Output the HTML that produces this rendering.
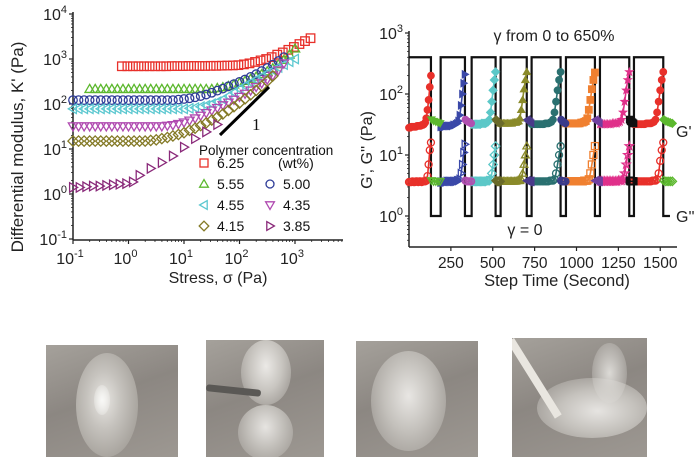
<!DOCTYPE html>
<html><head><meta charset="utf-8">
<style>
html,body{margin:0;padding:0;background:#fff;}
body{width:700px;height:457px;position:relative;overflow:hidden;font-family:"Liberation Sans",sans-serif;}
svg{position:absolute;left:0;top:0;}
.photo{position:absolute;overflow:hidden;background:linear-gradient(160deg,#a5a19b 0%,#8c8782 45%,#9d9892 100%);}
.blob{position:absolute;border-radius:50%;}
</style></head>
<body>
<svg id="chart" width="700" height="300" viewBox="0 0 700 300"></svg>

<div class="photo" style="left:46px;top:345px;width:132px;height:112px">
 <div class="blob" style="left:30px;top:8px;width:62px;height:104px;background:radial-gradient(ellipse at 45% 45%,#e8e6e2 0%,#c6c3be 35%,#aaa6a0 70%,rgba(150,145,140,0) 100%)"></div>
 <div class="blob" style="left:48px;top:40px;width:16px;height:30px;background:radial-gradient(#f8f8f6 0%,rgba(240,240,238,0) 100%)"></div>
</div>
<div class="photo" style="left:206px;top:340px;width:118px;height:117px">
 <div class="blob" style="left:35px;top:0px;width:50px;height:65px;background:radial-gradient(ellipse at 50% 40%,#ebe9e6 0%,#c8c5c0 45%,rgba(150,145,140,0) 100%)"></div>
 <div class="blob" style="left:32px;top:65px;width:55px;height:55px;background:radial-gradient(ellipse at 50% 40%,#e6e4e1 0%,#c2bfba 45%,rgba(150,145,140,0) 100%)"></div>
 <div style="position:absolute;left:0;top:47px;width:55px;height:7px;background:#5a5855;transform:rotate(6deg);border-radius:3px"></div>
</div>
<div class="photo" style="left:356px;top:341px;width:122px;height:116px">
 <div class="blob" style="left:15px;top:10px;width:75px;height:100px;background:radial-gradient(ellipse at 50% 45%,#e8e6e3 0%,#c4c1bc 45%,rgba(150,145,140,0) 100%)"></div>
</div>
<div class="photo" style="left:512px;top:338px;width:135px;height:119px">
 <div class="blob" style="left:25px;top:40px;width:110px;height:60px;background:radial-gradient(ellipse at 55% 55%,#e6e4e1 0%,#c4c1bc 45%,rgba(150,145,140,0) 100%)"></div>
 <div class="blob" style="left:80px;top:5px;width:35px;height:60px;background:radial-gradient(ellipse at 50% 50%,#dcdad6 0%,rgba(150,145,140,0) 100%)"></div>
 <div style="position:absolute;width:90px;height:8px;background:#e9e6e0;transform:rotate(58deg);transform-origin:0 0;left:2px;top:0px"></div>
</div>

<script>
// ---------- LEFT CHART DATA ----------
const leftLabels = ["6.25","5.55","5.00","4.55","4.35","4.15","3.85"];
const xTickExp = [-1,0,1,2,3];
const yTickExp = [-1,0,1,2,3,4];
const logStressStart = [-0.12,-0.7,-1,-1,-1,-1];
const pointsPerDecade = 10;
const kRed = [690,690,690,690,690,690,690,690,690,695,695,695,700,700,700,700,705,705,710,715,720,730,760,800,860,930,1000,1100,1250,1400,1600,1850,2150,2500,2900];
const kGreen = [215,215,215,215,215,215,215,215,215,215,215,215,215,215,215,215,215,215,215,215,215,215,215,225,235,250,270,295,325,360,405,460,530,620,760,950,1250,1700];
const kBlue = [122,122,122,122,122,122,122,122,122,122,122,122,122,122,122,122,122,122,122,125,129,134,141,150,162,178,198,220,247,277,310,350,400,460,540,630,750,900,1100];
const kCyan = [78,78,78,78,78,78,78,78,78,78,78,78,78,78,78,78,78,78,78,78,78,80,83,87,93,101,112,126,150,180,215,255,300,350,410,480,560,650,750,870,1000];
const kMagenta = [32,32,32,32,32,32,32,32,32,32,32,32,32,32,32,32,32,33,34,36,39,43,48,55,63,72,82,94,108,125,145,170,200,240,290,350,430,560,800];
const kOlive = [15,15,15,15,15,15,15,15,15,15,15,15,15,15,15.5,16,17,18,19.5,21,23,26,29,33,38,44,51,60,72,87,105,130,160,200,250,320,420];
const purpleLogStress = [-1,-0.88,-0.76,-0.64,-0.52,-0.4,-0.28,-0.16,-0.04,0.08,0.2,0.4,0.6,0.8,1.0,1.2,1.4,1.6];
const kPurple = [1.4,1.4,1.45,1.5,1.5,1.55,1.6,1.65,1.7,1.85,2.6,3.7,5,7,11,17,24,35];

// ---------- RIGHT CHART DATA ----------
const rxTicks = [250,500,750,1000,1250,1500];
const ryTickExp = [0,1,2,3];
const strainTimes = [0,131,189,334,374,517,547,703,732,905,937,1110,1140,1315,1343,1518,1558];
const strainHigh = 400, strainLow = 1;
const segStart = [0,189,374,547,732,937,1140,1343];
const segEnd = [131,334,517,703,905,1110,1315,1518];
const gp1 = [28,28,29,29,29,29,29,30,30,30,30,31,31,32,34,40,55,80,130,200];
const gp2 = [29,29,29,29,30,30,30,30,30,30,31,31,32,33,36,45,65,100,150,210];
const gp3 = [32,32,32,32,32,32,32,32,33,33,33,33,34,35,38,50,75,115,170,230];
const gp4 = [33,33,33,33,33,33,33,33,33,34,34,34,35,36,40,55,80,120,170,230];
const gp5 = [32,32,32,32,32,32,32,32,32,33,33,33,34,35,38,50,75,115,170,230];
const gp6 = [33,33,33,33,33,33,33,33,33,33,34,34,35,36,40,55,80,120,170,225];
const gp7 = [32,32,32,32,32,32,32,32,33,33,33,33,34,35,38,50,75,115,170,230];
const gp8 = [32,32,32,32,32,32,32,32,33,33,33,33,34,35,38,50,75,115,170,230];
const gpp1 = [3.6,3.6,3.6,3.7,3.6,3.6,3.7,3.7,3.6,3.7,3.7,3.6,3.7,3.7,3.7,3.8,4.5,7,12,16];
const gpp2 = [3.6,3.6,3.6,3.6,3.6,3.7,3.7,3.7,3.7,3.7,3.7,3.7,3.7,3.8,3.8,4,5,7,11,15];
const gpp3 = [3.7,3.7,3.7,3.7,3.7,3.7,3.7,3.7,3.7,3.7,3.7,3.7,3.8,3.8,3.8,4,5,7,10,14];
const gpp4 = [3.7,3.7,3.7,3.7,3.7,3.7,3.7,3.7,3.7,3.7,3.7,3.7,3.8,3.8,3.8,4,5,7,10,14];
const gpp5 = [3.7,3.7,3.7,3.7,3.7,3.7,3.7,3.7,3.7,3.7,3.7,3.7,3.8,3.8,3.8,4,5,7,10,14];
const gpp6 = [3.7,3.7,3.7,3.7,3.7,3.7,3.7,3.7,3.7,3.7,3.7,3.7,3.8,3.8,3.8,4,5,7,10,14];
const gpp7 = [3.7,3.7,3.7,3.7,3.7,3.7,3.7,3.7,3.7,3.7,3.7,3.7,3.8,3.8,3.8,4,5,7,10,14];
const gpp8 = [3.7,3.7,3.7,3.7,3.7,3.7,3.7,3.7,3.7,3.7,3.7,3.7,3.8,3.8,3.8,4,5,8,12,16];
const shortStart = [131,334,517,703,905,1110,1315,1518];
const shortEnd = [189,374,547,732,937,1140,1343,1575];
const gpShort = [38,36,35,34,33];
const gppShort = [3.8,3.7,3.7,3.7,3.7];

// ---------- DRAWING ----------
const NS="http://www.w3.org/2000/svg";
const svg=document.getElementById('chart');
function mk(tag,attrs,parent){const e=document.createElementNS(NS,tag);for(const k in attrs)e.setAttribute(k,attrs[k]);(parent||svg).appendChild(e);return e;}

function marker(shape,x,y,s,color,fill,parent){
  const h=s/2;let e;
  if(shape==='square')e=mk('rect',{x:x-h,y:y-h,width:s,height:s},parent);
  else if(shape==='circle')e=mk('circle',{cx:x,cy:y,r:h},parent);
  else{
    let p;
    if(shape==='up')p=[[x,y-h*1.1],[x+h*1.1,y+h*0.8],[x-h*1.1,y+h*0.8]];
    else if(shape==='down')p=[[x,y+h*1.1],[x+h*1.1,y-h*0.8],[x-h*1.1,y-h*0.8]];
    else if(shape==='left')p=[[x-h*1.1,y],[x+h*0.8,y-h*1.1],[x+h*0.8,y+h*1.1]];
    else if(shape==='right')p=[[x+h*1.1,y],[x-h*0.8,y-h*1.1],[x-h*0.8,y+h*1.1]];
    else if(shape==='diamond')p=[[x,y-h*1.2],[x+h*1.2,y],[x,y+h*1.2],[x-h*1.2,y]];
    else if(shape==='star'){p=[];for(let i=0;i<10;i++){const a=-Math.PI/2+i*Math.PI/5,r=i%2?h*0.5:h*1.2;p.push([x+r*Math.cos(a),y+r*Math.sin(a)]);}}
    e=mk('polygon',{points:p.map(q=>q.join(',')).join(' ')},parent);
  }
  e.setAttribute('fill',fill?color:'none');e.setAttribute('stroke',color);e.setAttribute('stroke-width',fill?0.8:1.3);
  return e;
}

// ---- left chart
const LX=v=>73+(v+1)*55.5;
const LY=v=>14+(4-Math.log10(v))*45;
const left=mk('g',{});


mk('line',{x1:73,y1:12,x2:73,y2:240,stroke:'#222','stroke-width':1.5},left);
mk('line',{x1:73,y1:240,x2:343,y2:240,stroke:'#222','stroke-width':1.5},left);
yTickExp.forEach(e=>{
  const y=14+(4-e)*45;
  mk('line',{x1:69,y1:y,x2:73,y2:y,stroke:'#222','stroke-width':1.2},left);
  if(e<4)for(let m=2;m<10;m++){const yy=14+(4-e-Math.log10(m))*45;mk('line',{x1:71,y1:yy,x2:73,y2:yy,stroke:'#222','stroke-width':0.8},left);}
  const t=mk('text',{x:67,y:y+6,'text-anchor':'end','font-size':16,fill:'#222'},left);
  
  t.innerHTML='10<tspan dy="-7" font-size="11">'+e+'</tspan>';
});
xTickExp.forEach(e=>{
  const x=LX(e);
  mk('line',{x1:x,y1:240,x2:x,y2:244,stroke:'#222','stroke-width':1.2},left);
  for(let m=2;m<10;m++){const xx=LX(e+Math.log10(m));if(xx<343)mk('line',{x1:xx,y1:240,x2:xx,y2:242,stroke:'#222','stroke-width':0.8},left);}
  const t=mk('text',{x:x-3,y:264,'text-anchor':'middle','font-size':16,fill:'#222'},left);
  
  t.innerHTML='10<tspan dy="-7" font-size="11">'+e+'</tspan>';
});
let tt=mk('text',{x:0,y:0,'text-anchor':'middle','font-size':17,fill:'#222',transform:'translate(23,147) rotate(-90)'},left);

tt.textContent="Differential modulus, K' (Pa)";
tt=mk('text',{x:218,y:283,'text-anchor':'middle','font-size':16,fill:'#222'},left);

tt.textContent="Stress, σ (Pa)";

const lSeries=[kRed,kGreen,kBlue,kCyan,kMagenta,kOlive];
const lColors=['#e8302a','#5cb82e','#2e3c98','#5cc8d0','#b04ab0','#847a26','#8a2a7a'];
const lShapes=['square','up','circle','left','down','diamond','right'];
lSeries.forEach((arr,i)=>{
  const g=mk('g',{},left);
  
  arr.forEach((v,j)=>marker(lShapes[i],LX(logStressStart[i]+j/pointsPerDecade),LY(v),8.5,lColors[i],false,g));
});
{
  const g=mk('g',{},left);
  
  kPurple.forEach((v,j)=>marker('right',LX(purpleLogStress[j]),LY(v),8.5,lColors[6],false,g));
}
tt=mk('line',{x1:220,y1:135,x2:269,y2:87,stroke:'#000','stroke-width':3},left);

tt=mk('text',{x:252,y:130,'font-size':17,'font-family':'Liberation Serif',fill:'#111'},left);
tt.textContent='1';
const lg=mk('g',{},left);

tt=mk('text',{x:199,y:155,'font-size':13.5,fill:'#111'},lg);tt.textContent='Polymer concentration';
const legPos=[[204,163],[204,184],[270,184],[204,205],[270,205],[204,226],[270,226]];
leftLabels.forEach((lab,i)=>{
  const [x,y]=legPos[i];
  marker(lShapes[i],x,y,8,lColors[i],false,lg);
  const t=mk('text',{x:x+13,y:y+5,'font-size':14,fill:'#111'},lg);
  
  t.textContent=lab;
});
tt=mk('text',{x:278,y:168,'font-size':14,fill:'#111'},lg);tt.textContent='(wt%)';

// ---- right chart
const RX=t=>409+t/1600*268;
const RY=v=>216-Math.log10(v)*61;
const right=mk('g',{});

mk('line',{x1:409,y1:31,x2:409,y2:247,stroke:'#222','stroke-width':1.5},right);
mk('line',{x1:409,y1:247,x2:677,y2:247,stroke:'#222','stroke-width':1.5},right);
ryTickExp.forEach(e=>{
  const y=RY(Math.pow(10,e));
  mk('line',{x1:405,y1:y,x2:409,y2:y,stroke:'#222','stroke-width':1.2},right);
  for(let m=2;m<10;m++){const yy=RY(Math.pow(10,e-1)*m);if(yy<247)mk('line',{x1:407,y1:yy,x2:409,y2:yy,stroke:'#222','stroke-width':0.8},right);}
  const t=mk('text',{x:403,y:y+6,'text-anchor':'end','font-size':16,fill:'#222'},right);
  
  t.innerHTML='10<tspan dy="-7" font-size="11">'+e+'</tspan>';
});
rxTicks.forEach(v=>{
  const x=RX(v);
  mk('line',{x1:x,y1:247,x2:x,y2:251,stroke:'#222','stroke-width':1.2},right);
  const t=mk('text',{x:x,y:268,'text-anchor':'middle','font-size':15.5,fill:'#222'},right);
  
  t.textContent=v;
});
tt=mk('text',{x:0,y:0,'text-anchor':'middle','font-size':16,fill:'#222',transform:'translate(372,150) rotate(-90)'},right);
tt.textContent="G', G'' (Pa)";
tt=mk('text',{x:557,y:286,'text-anchor':'middle','font-size':16.5,fill:'#222'},right);
tt.textContent="Step Time (Second)";
tt=mk('text',{x:554,y:41,'text-anchor':'middle','font-size':16,fill:'#222'},right);
tt.textContent="γ from 0 to 650%";
tt=mk('text',{x:525,y:235,'text-anchor':'middle','font-size':16,fill:'#222'},right);
tt.textContent="γ = 0";
tt=mk('text',{x:676,y:137,'font-size':16,fill:'#222'},right);
tt.textContent="G'";
tt=mk('text',{x:676,y:222,'font-size':16,fill:'#222'},right);
tt.textContent="G''";
{
  let pts=[];let hi=true;
  strainTimes.forEach((t,i)=>{
    const y=RY(hi?strainHigh:strainLow);
    if(i===0){pts.push([RX(t),y]);}
    else{pts.push([RX(t),y]);hi=!hi;pts.push([RX(t),RY(hi?strainHigh:strainLow)]);}
  });
  pts.pop();
  pts.push([RX(1600)-8,RY(strainLow)]);
  const p=mk('polyline',{points:pts.map(q=>q.join(',')).join(' '),fill:'none',stroke:'#111','stroke-width':2.2},right);
  
}
const gpSegs=[gp1,gp2,gp3,gp4,gp5,gp6,gp7,gp8];
const gppSegs=[gpp1,gpp2,gpp3,gpp4,gpp5,gpp6,gpp7,gpp8];
const rColors=['#e8302a','#3a48a8','#5cc8c8','#8a8a2a','#2a7070','#f08030','#e0308a','#e8302a'];
const rShapes=['circle','right','diamond','up','circle','square','star','circle'];
const sColors=['#5cb82e','#b050b0','#6a6a2a','#4a3a8a','#3a3a8a','#7040a0','#111111','#5cb82e'];
const sShapes=['down','circle','diamond','left','circle','left','square','diamond'];
function drawSeg(vals,t0,t1,color,shape,filled,withLine,name){
  const g=mk('g',{},right);
  
  const n=vals.length;const pts=vals.map((v,j)=>[RX(t0+(t1-t0)*j/(n-1)),RY(v)]);
  mk('polyline',{points:pts.map(q=>q.join(',')).join(' '),fill:'none',stroke:color,'stroke-width':1.6},g);
  pts.forEach(q=>marker(shape,q[0],q[1],7,color,filled,g));
}
gpSegs.forEach((arr,i)=>drawSeg(arr,segStart[i],segEnd[i],rColors[i],rShapes[i],true,true,'g-prime-cycle-'+(i+1)));
gppSegs.forEach((arr,i)=>drawSeg(arr,segStart[i],segEnd[i],rColors[i],rShapes[i],false,true,'g-double-prime-cycle-'+(i+1)));
shortStart.forEach((s,i)=>{
  drawSeg(gpShort,s+3,shortEnd[i]-3,sColors[i],sShapes[i],true,true,'g-prime-strain-'+(i+1));
  drawSeg(gppShort,s+3,shortEnd[i]-3,sColors[i],sShapes[i],false,true,'g-double-prime-strain-'+(i+1));
});
</script>
</body></html>
